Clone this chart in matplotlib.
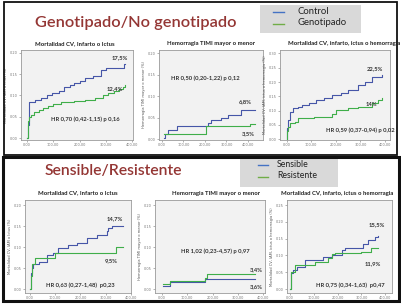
import matplotlib
matplotlib.use("Agg")
import matplotlib.pyplot as plt
from matplotlib.patches import Rectangle
from matplotlib.lines import Line2D

W, H = 401, 304
BLUE = "#4656a8"
GREEN = "#3fae4a"
TITLE_RED = "#943634"
FONT = ["Lato", "DejaVu Sans"]

# ---------------- data ----------------
panel_titles = ["Genotipado/No genotipado", "Sensible/Resistente"]
legend_top = ["Control", "Genotipado"]
legend_bottom = ["Sensible", "Resistente"]
subplot_titles = ["Mortalidad CV, Infarto o Ictus", "Hemorragia TIMI mayor o menor",
                  "Mortalidad CV, infarto, ictus o hemorragia"]
ylabels = ["Mortalidad CV, IAM o Ictus (%)", "Hemorragia TIMI mayor o menor (%)",
           "Mortalidad CV, IAM, ictus o hemorragia (%)"]
xtick_vals = [0, 100, 200, 300, 400]
xtick_labels = ["0,00", "100,00", "200,00", "300,00", "400,00"]

# top-left: Mortalidad CV, infarto o ictus (Control vs Genotipado)
tl_blue_x = [0, 3, 6, 9, 30, 55, 75, 95, 120, 140, 165, 180, 200, 220, 250, 280, 300, 370, 373]
tl_blue_y = [0.0, 0.03, 0.06, 0.085, 0.09, 0.095, 0.10, 0.105, 0.11, 0.12, 0.125, 0.13, 0.135,
             0.14, 0.145, 0.16, 0.165, 0.175, 0.175]
tl_green_x = [0, 2, 4, 8, 15, 25, 45, 60, 80, 100, 130, 180, 220, 260, 290, 310, 330, 350, 365, 373]
tl_green_y = [0.0, 0.02, 0.04, 0.05, 0.055, 0.06, 0.065, 0.07, 0.075, 0.08, 0.085, 0.087, 0.09,
              0.095, 0.10, 0.105, 0.11, 0.115, 0.12, 0.124]

# top-middle: Hemorragia TIMI
tm_blue_x = [7, 15, 30, 45, 69, 214, 230, 276, 306, 368, 433]
tm_blue_y = [0.003, 0.012, 0.02, 0.022, 0.03, 0.037, 0.045, 0.05, 0.057, 0.068, 0.068]
tm_green_x = [7, 15, 200, 205, 410, 433]
tm_green_y = [0.012, 0.012, 0.012, 0.030, 0.035, 0.035]

# top-right: Mortalidad CV, infarto, ictus o hemorragia
tr_blue_x = [0, 3, 7, 14, 27, 47, 61, 90, 120, 150, 183, 220, 251, 291, 318, 345, 386]
tr_blue_y = [0.0, 0.04, 0.067, 0.097, 0.108, 0.114, 0.12, 0.128, 0.137, 0.146, 0.155, 0.163,
             0.172, 0.19, 0.20, 0.217, 0.225]
tr_green_x = [0, 3, 7, 14, 35, 47, 110, 183, 200, 251, 291, 345, 372, 386]
tr_green_y = [0.0, 0.03, 0.044, 0.056, 0.062, 0.073, 0.079, 0.088, 0.102, 0.108, 0.114, 0.126,
              0.137, 0.143]

# bottom-left: Mortalidad CV, infarto o ictus (Sensible vs Resistente)
bl_blue_x = [0, 3, 8, 13, 37, 66, 90, 112, 152, 185, 227, 264, 303, 310, 323, 367]
bl_blue_y = [0.0, 0.037, 0.05, 0.06, 0.065, 0.081, 0.085, 0.097, 0.105, 0.109, 0.121, 0.129,
             0.137, 0.145, 0.151, 0.151]
bl_green_x = [0, 3, 8, 20, 60, 100, 340, 367]
bl_green_y = [0.0, 0.03, 0.06, 0.073, 0.073, 0.085, 0.099, 0.099]

# bottom-middle: Hemorragia TIMI
bm_blue_x = [6, 33, 172, 368]
bm_blue_y = [0.008, 0.016, 0.024, 0.024]
bm_green_x = [6, 33, 172, 178, 368]
bm_green_y = [0.011, 0.019, 0.027, 0.035, 0.035]

# bottom-right: Mortalidad CV, infarto, ictus o hemorragia
br_blue_x = [0, 4, 14, 28, 63, 105, 140, 175, 217, 231, 301, 308, 329, 357, 371]
br_blue_y = [0.0, 0.047, 0.057, 0.066, 0.086, 0.086, 0.096, 0.101, 0.116, 0.121, 0.121, 0.133,
             0.146, 0.156, 0.159]
br_green_x = [0, 4, 20, 63, 105, 160, 175, 190, 300, 340, 371]
br_green_y = [0.0, 0.052, 0.071, 0.071, 0.081, 0.091, 0.103, 0.106, 0.111, 0.121, 0.121]

fig = plt.figure(figsize=(W / 100, H / 100), dpi=100)
fig.patch.set_facecolor("white")


def fx(x):
    return x / W


def fy(y):
    return 1 - y / H


def add_ax(x0, y0, x1, y1):
    return fig.add_axes([fx(x0), fy(y1), (x1 - x0) / W, (y1 - y0) / H])


def style_ax(ax, xlim, ylim, yticks, ylab):
    ax.set_facecolor("#f2f2f2")
    for s in ax.spines.values():
        s.set_color("#9a9a9a")
        s.set_linewidth(0.6)
    ax.set_xlim(*xlim)
    ax.set_ylim(*ylim)
    ax.set_xticks(xtick_vals)
    ax.set_xticklabels(xtick_labels)
    ax.set_yticks(yticks)
    ax.set_yticklabels([("%.2f" % v).replace(".", ",") for v in yticks])
    ax.tick_params(labelsize=2.5, length=1.2, width=0.4, pad=1, colors="#777777")
    ax.set_ylabel(ylab, fontsize=2.6, labelpad=1.5, color="#555555")


def curve(ax, x, y, c):
    ax.step(x, y, where="post", color=c, lw=0.8)


def lab(ax, x, y, s, fs=4.2):
    ax.text(x, y, s, fontsize=fs, fontweight="bold", ha="center", va="center",
            color="#333333", family=FONT)


y20 = [0.0, 0.05, 0.10, 0.15, 0.20]
y25 = [0.0, 0.05, 0.10, 0.15, 0.20, 0.25]
y30 = [0.0, 0.05, 0.10, 0.15, 0.20, 0.25, 0.30]

# ---- top row ----
ax = add_ax(21, 50, 133, 140)
style_ax(ax, (-22.9, 403.8), (-0.0047, 0.207), y20, ylabels[0])
curve(ax, tl_blue_x, tl_blue_y, BLUE)
curve(ax, tl_green_x, tl_green_y, GREEN)
lab(ax, 354, 0.188, "17,5%")
lab(ax, 335, 0.115, "12,4%")
lab(ax, 221, 0.045, "HR 0,70 (0,42-1,15) p 0,16")

ax = add_ax(159, 50, 263, 140)
style_ax(ax, (-14, 470), (-0.0023, 0.207), y20, ylabels[1])
curve(ax, tm_blue_x, tm_blue_y, BLUE)
curve(ax, tm_green_x, tm_green_y, GREEN)
lab(ax, 200, 0.142, "HR 0,50 (0,20-1,22) p 0,12")
lab(ax, 386, 0.086, "6,8%")
lab(ax, 400, 0.012, "3,5%")

ax = add_ax(280, 50, 390, 140)
style_ax(ax, (-27.2, 420), (-0.0024, 0.312), y30, ylabels[2])
curve(ax, tr_blue_x, tr_blue_y, BLUE)
curve(ax, tr_green_x, tr_green_y, GREEN)
lab(ax, 359, 0.248, "22,5%")
lab(ax, 345, 0.123, "14%")
lab(ax, 298, 0.03, "HR 0,59 (0,37-0,94) p 0,02")

# ---- bottom row ----
ax = add_ax(25, 200, 131, 293)
style_ax(ax, (-19.8, 400), (-0.0095, 0.212), y20, ylabels[0])
curve(ax, bl_blue_x, bl_blue_y, BLUE)
curve(ax, bl_green_x, bl_green_y, GREEN)
lab(ax, 337, 0.168, "14,7%")
lab(ax, 323, 0.067, "9,5%")
lab(ax, 198, 0.0095, "HR 0,63 (0,27-1,48)  p0,23")

ax = add_ax(155, 200, 265, 293)
style_ax(ax, (-26.4, 406.7), (-0.0095, 0.212), y20, ylabels[1])
curve(ax, bm_blue_x, bm_blue_y, BLUE)
curve(ax, bm_green_x, bm_green_y, GREEN)
lab(ax, 210, 0.09, "HR 1,02 (0,23-4,57) p 0,97")
lab(ax, 374, 0.047, "3,4%")
lab(ax, 374, 0.0055, "3,6%")

ax = add_ax(287, 200, 392, 293)
style_ax(ax, (-12.6, 428.6), (-0.0119, 0.265), y25, ylabels[2])
curve(ax, br_blue_x, br_blue_y, BLUE)
curve(ax, br_green_x, br_green_y, GREEN)
lab(ax, 364, 0.193, "15,5%")
lab(ax, 350, 0.074, "11,9%")
lab(ax, 252, 0.012, "HR 0,75 (0,34-1,63)  p0,47")

# ---- slide decorations ----
# legend boxes
fig.add_artist(Rectangle((fx(260), fy(33)), 101 / W, 28 / H, transform=fig.transFigure,
                         facecolor="#d9d9d9", edgecolor="none", zorder=0))
fig.add_artist(Rectangle((fx(240), fy(187)), 98 / W, 30 / H, transform=fig.transFigure,
                         facecolor="#d9d9d9", edgecolor="none", zorder=0))
for (y, c) in [(12, "#4472c4"), (23.5, "#70ad47")]:
    fig.add_artist(Line2D([fx(273), fx(284)], [fy(y), fy(y)], color=c, lw=1.0,
                          transform=fig.transFigure))
for (y, c) in [(165, "#4472c4"), (177, "#70ad47")]:
    fig.add_artist(Line2D([fx(258), fx(268)], [fy(y), fy(y)], color=c, lw=1.0,
                          transform=fig.transFigure))
fig.text(fx(298), fy(11), legend_top[0], fontsize=6.8, va="center", ha="left", family=FONT, color="#222222")
fig.text(fx(298), fy(22.5), legend_top[1], fontsize=6.8, va="center", ha="left", family=FONT, color="#222222")
fig.text(fx(277), fy(164.5), legend_bottom[0], fontsize=6.3, va="center", ha="left", family=FONT, color="#222222")
fig.text(fx(277), fy(175.5), legend_bottom[1], fontsize=6.3, va="center", ha="left", family=FONT, color="#222222")

# panel titles
fig.text(fx(35), fy(23), panel_titles[0], fontsize=11.8, fontweight="semibold", va="center",
         ha="left", family=FONT, color=TITLE_RED)
fig.text(fx(45), fy(171), panel_titles[1], fontsize=11.3, fontweight="semibold", va="center",
         ha="left", family=FONT, color=TITLE_RED)

# subplot titles
for (cx, cy, s) in [(75, 43.5, subplot_titles[0]), (211, 43.5, subplot_titles[1]),
                    (344, 43.5, subplot_titles[2]), (78, 193, subplot_titles[0]),
                    (216, 193, subplot_titles[1]), (337, 193, subplot_titles[2])]:
    fig.text(fx(cx), fy(cy), s, fontsize=4.3, fontweight="bold", va="center", ha="center",
             family=FONT, color="#222222")

# panel frames
fig.add_artist(Rectangle((fx(4), fy(155)), 393 / W, 153 / H, transform=fig.transFigure,
                         fill=False, edgecolor="#111111", lw=1.3))
fig.add_artist(Rectangle((fx(2.5), fy(300.5)), 396 / W, 144 / H, transform=fig.transFigure,
                         fill=False, edgecolor="#111111", lw=2.2))

fig.savefig("out.png", dpi=100)
